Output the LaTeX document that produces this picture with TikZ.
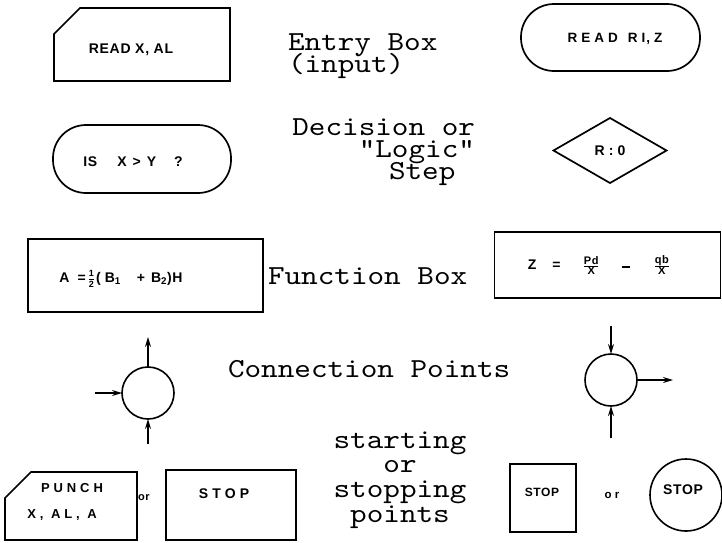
\documentclass[tikz,border=0pt]{standalone}
\usepackage{fontspec}
\newfontfamily\twfont[FakeStretch=1.15]{lmmono10-regular.otf}
\newfontfamily\letfont[LetterSpace=5]{Liberation Sans}
\newfontfamily\wideletfont[LetterSpace=30]{Liberation Sans}
\usetikzlibrary{shapes.geometric,arrows.meta}
\newcommand\lfr[2]{\ensuremath{\frac{\hbox{\letfont\bfseries\fontsize{11}{11}\selectfont #1}}{\hbox{\letfont\bfseries\fontsize{11}{11}\selectfont #2}}}}
\newcommand\hfr[2]{\ensuremath{\frac{\hbox{\letfont\bfseries\fontsize{9}{9}\selectfont #1}}{\hbox{\letfont\bfseries\fontsize{9}{9}\selectfont #2}}}}
\newcommand\shortdash{\rule[0.3ex]{8pt}{1.5pt}}
\begin{document}
\begin{tikzpicture}[x=1pt,y=-1pt,
  every node/.style={inner sep=0pt, outer sep=0pt},
  outline/.style={draw=black, line width=1.7pt},
  plainbox/.style={outline, rectangle},
  ghost/.style={rectangle},
  stadium/.style={outline, rectangle, rounded corners=33pt},
  ring/.style={outline, circle, line width=1.6pt},
  tw/.style={font=\twfont\fontsize{27.5}{22}\selectfont},
  lett/.style={font=\letfont\bfseries\fontsize{14}{16}\selectfont},
  smlett/.style={font=\letfont\bfseries\fontsize{11}{12}\selectfont},
  widelett/.style={font=\wideletfont\bfseries\fontsize{14}{16}\selectfont},
  smwidelett/.style={font=\wideletfont\bfseries\fontsize{11.5}{12}\selectfont},
  arr/.style={line width=1.3pt, -{Stealth[length=10pt,width=6pt]}},
]
\useasboundingbox (0,0) rectangle (722,542);

% ---- row 1: entry boxes
\node[ghost, minimum width=176pt, minimum height=73pt] (entry) at (142,44.5) {};
\draw[outline] ([yshift=-26pt]entry.north west) -- ([xshift=26pt]entry.north west)
  -- (entry.north east) -- (entry.south east) -- (entry.south west) -- cycle;
\node[lett] (entryT) at (131,50) {READ X, AL};
\node[tw, anchor=base west] (lab1a) at (288,50) {Entry Box};
\node[tw, anchor=base west] (lab1b) at (288,72) {(input)};
\node[stadium, minimum width=179pt, minimum height=67pt] (readri) at (610.5,37.5) {};
\node[widelett, font=\wideletfont\bfseries\fontsize{13.5}{16}\selectfont] (readriT) at (615,39) {READ\hspace{10pt}RI\hspace{1pt},Z};

% ---- row 2: decision
\node[stadium, minimum width=178pt, minimum height=68pt] (isxy) at (142,159) {};
\node[lett] (isxyT) at (133,162) {IS\hspace{20pt}X\hspace{6pt}>\hspace{6pt}Y\hspace{18pt}?};
\node[tw, anchor=base east] (lab2a) at (475,135) {Decision or};
\node[tw, anchor=base east] (lab2b) at (475,157) {\char34 Logic\char34};
\node[tw, anchor=base west] (lab2c) at (389,179) {Step};
\node[outline, diamond, minimum width=113pt, minimum height=65pt] (dec) at (610,150.5) {};
\node[lett, font=\wideletfont\bfseries\fontsize{14}{16}\selectfont] (decT) at (610,151) {R:0};

% ---- row 3: function boxes
\node[plainbox, minimum width=235pt, minimum height=73pt] (funL) at (145.5,275.5) {};
\node[lett] (funLT) at (121,279)
  {A\hspace{8pt}=\hspace{2pt}\hfr{1}{2}\hspace{1pt}(\hspace{4pt}B\textsubscript{1}\hspace{16pt}+\hspace{6pt}B\textsubscript{2})H};
\node[tw, anchor=base west] (lab3) at (268,284) {Function Box};
\node[plainbox, minimum width=226pt, minimum height=66pt] (funR) at (607.5,265) {};
\node[lett] (funRT) at (599,265)
  {Z\hspace{16pt}=\hspace{22pt}\lfr{Pd}{X}\hspace{22pt}\shortdash\hspace{24pt}\lfr{qb}{X}};

% ---- row 4: connection points
\node[ring, minimum size=52pt] (cL) at (148,393) {};
\coordinate (cLup) at (148,337);
\coordinate (cLin) at (95,393);
\coordinate (cLdn) at (148,444);
\draw[arr] (cL.north) -- (cLup);
\draw[arr] (cLin) -- (cL.west);
\draw[arr] (cLdn) -- (cL.south);
\node[tw, anchor=base west] (lab4) at (228,377) {Connection Points};
\node[ring, minimum size=52pt] (cR) at (611,380) {};
\coordinate (cRin) at (611,326);
\coordinate (cRout) at (673,380);
\coordinate (cRdn) at (611,438);
\draw[arr] (cRin) -- (cR.north);
\draw[arr] (cR.east) -- (cRout);
\draw[arr] (cRdn) -- (cR.south);

% ---- row 5: start / stop
\node[ghost, minimum width=132pt, minimum height=68pt] (punch) at (71,506) {};
\draw[outline] ([yshift=-26pt]punch.north west) -- ([xshift=26pt]punch.north west)
  -- (punch.north east) -- (punch.south east) -- (punch.south west) -- cycle;
\node[widelett, font=\wideletfont\bfseries\fontsize{13}{16}\selectfont] (punchA) at (72,488) {PUNCH};
\node[widelett, font=\wideletfont\bfseries\fontsize{13}{16}\selectfont] (punchB) at (62,515) {X,\ AL,\ A};
\node[smlett] (or1) at (144,498) {or};
\node[plainbox, minimum width=130pt, minimum height=70pt] (stop1) at (231,505) {};
\node[widelett] (stop1T) at (224,494) {STOP};
\node[tw, anchor=base] (lab5a) at (400,448) {starting};
\node[tw, anchor=base] (lab5b) at (400,472) {or};
\node[tw, anchor=base] (lab5c) at (400,497) {stopping};
\node[tw, anchor=base] (lab5d) at (400,522) {points};
\node[plainbox, minimum width=66pt, minimum height=68pt] (stop2) at (543,498) {};
\node[smlett, font=\letfont\bfseries\fontsize{12}{12}\selectfont] (stop2T) at (542,492) {STOP};
\node[smwidelett] (or2) at (612,495) {or};
\node[ring, minimum size=72pt] (stop3) at (686,495) {};
\node[lett] (stop3T) at (683,490) {STOP};
\end{tikzpicture}
\end{document}
